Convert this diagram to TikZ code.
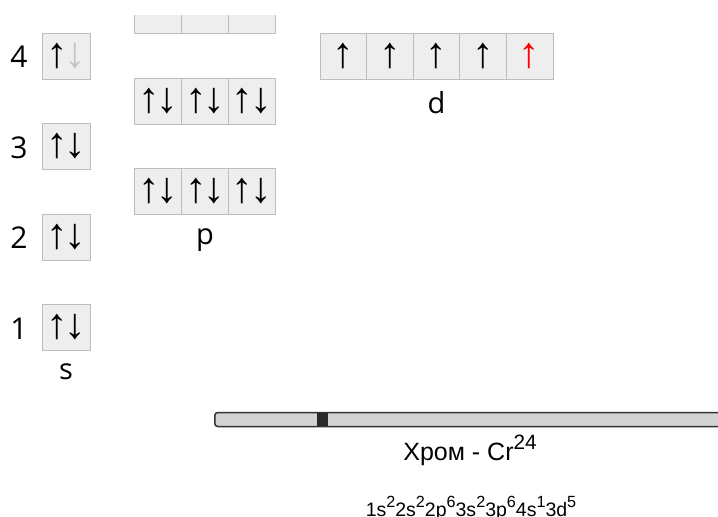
\documentclass[tikz,border=0pt]{standalone}
\usepackage{fontspec}
\setmainfont{Open Sans}
\newfontfamily\spinfont{Liberation Sans}
\newfontfamily\namefont{Liberation Sans}
\usetikzlibrary{positioning}

\definecolor{cellfill}{HTML}{EEEEEE}
\definecolor{cellline}{HTML}{BDBDBD}
\definecolor{spingray}{HTML}{C4C4C4}
\definecolor{barfill}{HTML}{D3D3D3}
\definecolor{barline}{HTML}{333333}
\newcommand{\upidx}[1]{\raisebox{0.42em}{\scalebox{0.83}{#1}}}
\newcommand{\pair}[1][black]{↑\kern-3pt\textcolor{#1}{↓}}

\begin{document}
\begin{tikzpicture}[x=1pt, y=-1pt,
    cell/.style={rectangle, draw=cellline, fill=cellfill, line width=1pt, minimum width=46.7pt, minimum height=46pt, inner sep=0pt, outer sep=0pt, font=\spinfont\fontsize{43}{43}\selectfont},
    lvl/.style={inner sep=0pt, font=\fontsize{30}{30}\selectfont},
    sub/.style={inner sep=0pt, font=\fontsize{29}{29}\selectfont}]

    \useasboundingbox (0,0) rectangle (718,517);

    % s cells and levels
    \node[cell, minimum width=48pt] (s4) at (66,56) {\pair[spingray]};
    \node[cell, minimum width=48pt] (s3) at (66,146.5) {\pair};
    \node[cell, minimum width=48pt] (s2) at (66,237) {\pair};
    \node[cell, minimum width=48pt] (s1) at (66,327.5) {\pair};
    \node[lvl] (n4) at (19,57) {4};
    \node[lvl] (n3) at (19,147.5) {3};
    \node[lvl] (n2) at (19,238) {2};
    \node[lvl] (n1) at (19,328.5) {1};
    \node[sub, below=13pt of s1] (slabel) {s};

    % p cells (4p cut at top)
    \begin{scope}
        \clip (0,15) rectangle (718,517);
        \node[cell] (p4a) at (158.3,10.5) {};
        \node[cell, right=0pt of p4a] (p4b) {};
        \node[cell, right=0pt of p4b] (p4c) {};
    \end{scope}
    \node[cell] (p3a) at (158.3,101) {\pair};
    \node[cell, right=0pt of p3a] (p3b) {\pair};
    \node[cell, right=0pt of p3b] (p3c) {\pair};
    \node[cell] (p2a) at (158.3,191.5) {\pair};
    \node[cell, right=0pt of p2a] (p2b) {\pair};
    \node[cell, right=0pt of p2b] (p2c) {\pair};
    \node[sub, below=14pt of p2b] (plabel) {p};

    % d cells
    \node[cell, minimum width=46.6pt] (d1) at (343.3,56) {↑};
    \node[cell, minimum width=46.6pt, right=0pt of d1] (d2) {↑};
    \node[cell, minimum width=46.6pt, right=0pt of d2] (d3) {↑};
    \node[cell, minimum width=46.6pt, right=0pt of d3] (d4) {↑};
    \node[cell, minimum width=46.6pt, right=0pt of d4] (d5) {\textcolor{red}{↑}};
    \node[sub, below=12pt of d3] (dlabel) {d};

    % slider
    \node[rectangle, draw=barline, fill=barfill, line width=1.5pt, rounded corners=3pt, minimum width=530pt, minimum height=14pt, inner sep=0pt, anchor=west] (track) at (214,419.5) {};
    \node[rectangle, fill=barline!80!black, minimum width=11pt, minimum height=13pt, inner sep=0pt] (knob) at (322.5,419.5) {};

    % captions
    \node[anchor=base, inner sep=0pt, font=\namefont\fontsize{25}{25}\selectfont] (title) at (470,460) {Хром - Cr\upidx{24}};
    \node[anchor=base, inner sep=0pt, font=\namefont\fontsize{19.5}{19.5}\selectfont] (formula) at (471,516)
        {1s\upidx{2}2s\upidx{2}2p\upidx{6}3s\upidx{2}3p\upidx{6}4s\upidx{1}3d\upidx{5}};
\end{tikzpicture}
\end{document}
